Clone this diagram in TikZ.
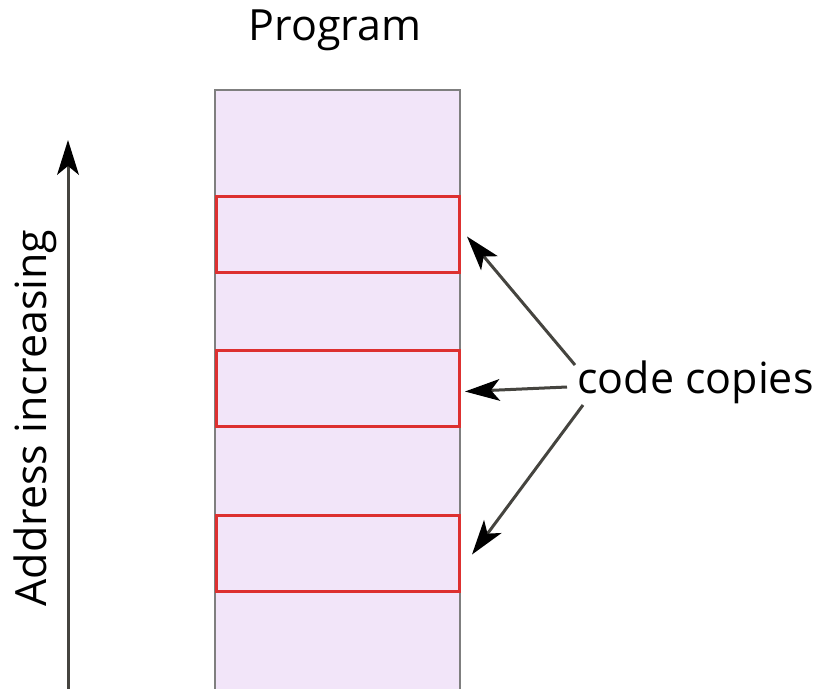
\documentclass[tikz,border=0pt]{standalone}
\usepackage{fontspec}
\setsansfont{Open Sans}
\usetikzlibrary{arrows.meta}
\definecolor{proglilac}{HTML}{F2E5F9}
\definecolor{progedge}{HTML}{7F7F7F}
\definecolor{copyred}{HTML}{DD3030}
\definecolor{arrowgrey}{HTML}{45443F}
\tikzset{
        x=1pt, y=-1pt,
        label/.style={font=\sffamily\fontsize{43}{50}\selectfont, text=black, inner sep=0pt},
        program/.style={draw=progedge, fill=proglilac, line width=2pt},
        copybox/.style={draw=copyred, line width=3pt, minimum width=243pt, minimum height=76pt, inner sep=0pt, anchor=north west},
        pointer/.style={draw=arrowgrey, line width=3pt, -{Stealth[length=35pt, width=22pt, inset=9pt, fill=black, line width=0pt]}}
          }
\begin{document}
\begin{tikzpicture}
        \useasboundingbox (0,0) rectangle (826,688);
        \clip (0,0) rectangle (826,688);
        \node[label] (title) at (335,30) {Program};
        \draw[program] (215,90) rectangle (460,700);
        \node[copybox] (c1) at (215,195) {};
        \node[copybox] (c2) at (215,349) {};
        \node[copybox] (c3) at (215,514) {};
        \node[label, anchor=west] (cc) at (577,382) {code copies};
        \coordinate (axbot) at (68,700);
        \coordinate (axtop) at (68,140);
        \draw[pointer] (axbot) -- (axtop);
        \node[label, rotate=90] (addr) at (35,418) {Address increasing};
        \draw[pointer] ([shift={(-2,-17)}]cc.west) -- ([shift={(6,2)}]c1.east);
        \draw[pointer] ([shift={(-10,5)}]cc.west) -- ([shift={(4,3)}]c2.east);
        \draw[pointer] ([shift={(6,23)}]cc.west) -- ([shift={(11,1)}]c3.east);
\end{tikzpicture}
\end{document}
